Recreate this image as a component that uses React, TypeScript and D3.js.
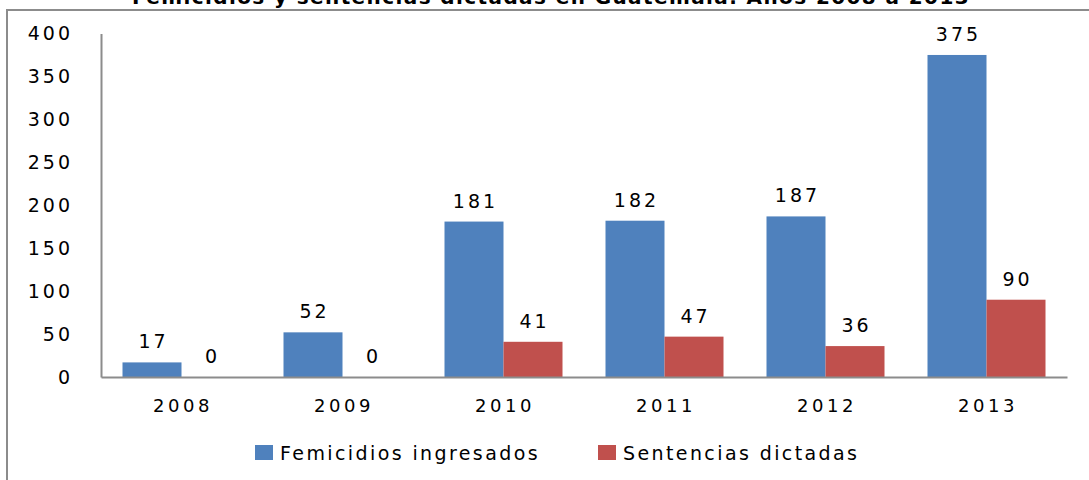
import React, { useEffect, useRef } from 'react';
import * as d3 from 'd3';

const years = ['2008', '2009', '2010', '2011', '2012', '2013'];
const femicidios = [17, 52, 181, 182, 187, 375];
const sentencias = [0, 0, 41, 47, 36, 90];
const seriesNames = ['Femicidios ingresados', 'Sentencias dictadas'];
const seriesColors = ['#4F81BD', '#C0504D'];
const yTicks = [0, 50, 100, 150, 200, 250, 300, 350, 400];
const title = 'Femicidios y sentencias dictadas en Guatemala. Años 2008 a 2013';

export default function App() {
  const svgRef = useRef<SVGSVGElement>(null);

  useEffect(() => {
    const svg = d3.select(svgRef.current);
    svg.selectAll('*').remove();

    const font = 'DejaVu Sans, Verdana, sans-serif';

    // outer frame (cut by the window on top/right/bottom)
    svg.append('path')
      .attr('d', `M7,482 L7,10 L1092,10`)
      .attr('fill', 'none')
      .attr('stroke', '#8c8c8c')
      .attr('stroke-width', 2);

    // title, mostly hidden above the top edge like in the original
    svg.append('text')
      .attr('x', 551)
      .attr('y', 3.5)
      .attr('text-anchor', 'middle')
      .attr('font-family', font)
      .attr('font-weight', 'bold')
      .attr('font-size', 20)
      .attr('letter-spacing', 1.4)
      .text(title);

    const x0 = d3.scaleBand().domain(years).range([101, 1067]).padding(0);
    const gap = 21.5;
    const x1 = d3.scaleBand().domain(seriesNames).range([gap, x0.bandwidth() - gap]).padding(0);
    const y = d3.scaleLinear().domain([0, 400]).range([377, 33.5]);

    // y axis
    const yAxis = svg.append('g').attr('transform', 'translate(101,0)')
      .call(d3.axisLeft(y).tickValues(yTicks).tickSize(0).tickPadding(28));
    yAxis.select('.domain').attr('stroke', '#8c8c8c').attr('stroke-width', 2);
    yAxis.selectAll('text')
      .attr('font-family', font)
      .attr('font-size', 19)
      .attr('letter-spacing', 3)
      .attr('fill', '#000');

    const data = years.map((yr, i) => ({ year: yr, values: [femicidios[i], sentencias[i]] }));

    const groups = svg.append('g').selectAll('g')
      .data(data)
      .join('g')
      .attr('transform', (d) => `translate(${x0(d.year)},0)`);

    groups.selectAll('rect')
      .data((d) => d.values.map((v, j) => ({ v, j })))
      .join('rect')
      .attr('x', (d) => x1(seriesNames[d.j]) as number)
      .attr('width', x1.bandwidth())
      .attr('y', (d) => y(d.v))
      .attr('height', (d) => y(0) - y(d.v))
      .attr('fill', (d) => seriesColors[d.j]);

    groups.selectAll('text.lbl')
      .data((d) => d.values.map((v, j) => ({ v, j })))
      .join('text')
      .attr('class', 'lbl')
      .attr('x', (d) => (x1(seriesNames[d.j]) as number) + x1.bandwidth() / 2 + 1.5)
      .attr('y', (d) => y(d.v) - 14)
      .attr('text-anchor', 'middle')
      .attr('font-family', font)
      .attr('font-size', 19)
      .attr('letter-spacing', 3)
      .text((d) => d.v);

    // x axis
    const xAxis = svg.append('g').attr('transform', 'translate(0,377)')
      .call(d3.axisBottom(x0).tickSize(0).tickPadding(22));
    xAxis.select('.domain').attr('stroke', '#8c8c8c').attr('stroke-width', 2);
    xAxis.selectAll('text')
      .attr('font-family', font)
      .attr('font-size', 18)
      .attr('letter-spacing', 3.5)
      .attr('dx', 1.5)
      .attr('fill', '#000');

    // legend
    const legendX = [255, 598];
    const legend = svg.append('g').selectAll('g')
      .data(seriesNames)
      .join('g')
      .attr('transform', (_d, i) => `translate(${legendX[i]},445)`);
    legend.append('rect')
      .attr('width', 18)
      .attr('height', 15)
      .attr('fill', (_d, i) => seriesColors[i]);
    legend.append('text')
      .attr('x', 25)
      .attr('y', 15)
      .attr('font-family', font)
      .attr('font-size', 19)
      .attr('letter-spacing', 2.4)
      .text((d) => d);
  }, []);

  return (
    <div style={{ position: 'absolute', left: 0, top: 0 }}>
      <svg ref={svgRef} width={1089} height={480} style={{ display: 'block', background: '#fff' }} />
    </div>
  );
}
